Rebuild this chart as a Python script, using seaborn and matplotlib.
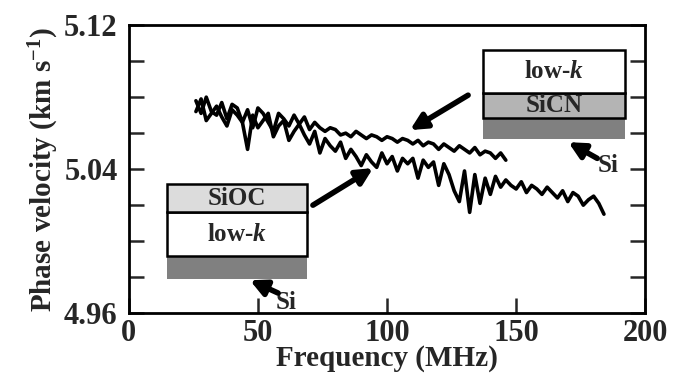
import numpy as np
import pandas as pd
import seaborn as sns
import matplotlib.pyplot as plt
from matplotlib.patches import Rectangle
from matplotlib.ticker import MultipleLocator

# low-k on SiCN (upper trace)
freq_sicn = [26, 28, 30, 32, 34, 36, 38, 40, 42, 44, 46, 48, 50, 52, 54, 56, 58, 60,
             62, 64, 66, 68, 70, 72, 74, 76, 78, 80, 82, 84, 86, 88, 90, 92, 94, 96,
             98, 100, 102, 104, 106, 108, 110, 112, 114, 116, 118, 120, 122, 124,
             126, 128, 130, 132, 134, 136, 138, 140, 142, 144, 146]
vel_sicn = [5.078, 5.071, 5.080, 5.072, 5.070, 5.077, 5.068, 5.076, 5.074, 5.066,
            5.073, 5.063, 5.074, 5.071, 5.066, 5.061, 5.071, 5.068, 5.064, 5.070,
            5.065, 5.069, 5.062, 5.066, 5.063, 5.061, 5.063, 5.062, 5.059, 5.060,
            5.058, 5.061, 5.059, 5.057, 5.059, 5.058, 5.056, 5.058, 5.057, 5.055,
            5.057, 5.056, 5.054, 5.056, 5.053, 5.055, 5.054, 5.051, 5.054, 5.052,
            5.050, 5.053, 5.051, 5.049, 5.052, 5.048, 5.050, 5.049, 5.046, 5.049,
            5.045]

# SiOC on low-k (lower trace)
freq_sioc = [26, 28, 30, 32, 34, 36, 38, 40, 42, 44, 46, 48, 50, 52, 54, 56, 58, 60,
             62, 64, 66, 68, 70, 72, 74, 76, 78, 80, 82, 84, 86, 88, 90, 92, 94, 96,
             98, 100, 102, 104, 106, 108, 110, 112, 114, 116, 118, 120, 122, 124,
             126, 128, 130, 132, 134, 136, 138, 140, 142, 144, 146, 148, 150, 152,
             154, 156, 158, 160, 162, 164, 166, 168, 170, 172, 174, 176, 178, 180,
             182, 184]
vel_sioc = [5.072, 5.079, 5.067, 5.071, 5.075, 5.069, 5.064, 5.073, 5.070, 5.066,
            5.051, 5.070, 5.063, 5.067, 5.071, 5.058, 5.064, 5.067, 5.056, 5.061,
            5.065, 5.059, 5.054, 5.061, 5.049, 5.057, 5.053, 5.050, 5.055, 5.046,
            5.051, 5.047, 5.042, 5.048, 5.044, 5.041, 5.049, 5.043, 5.047, 5.039,
            5.046, 5.043, 5.046, 5.035, 5.045, 5.041, 5.044, 5.031, 5.043, 5.037,
            5.028, 5.022, 5.039, 5.016, 5.037, 5.021, 5.035, 5.026, 5.036, 5.030,
            5.034, 5.031, 5.029, 5.033, 5.027, 5.031, 5.029, 5.026, 5.030, 5.027,
            5.024, 5.028, 5.022, 5.027, 5.025, 5.020, 5.023, 5.025, 5.021, 5.015]

sns.set_style('ticks')
plt.rcParams['font.family'] = ['Liberation Serif', 'DejaVu Serif']
plt.rcParams['font.weight'] = 'bold'
plt.rcParams['mathtext.fontset'] = 'custom'
plt.rcParams['mathtext.rm'] = 'Liberation Serif:bold'
plt.rcParams['mathtext.bf'] = 'Liberation Serif:bold'
plt.rcParams['mathtext.it'] = 'Liberation Serif:bold:italic'

fig = plt.figure(figsize=(6.85, 3.81), dpi=100)
ax = fig.add_axes([0.188, 0.178, 0.754, 0.756])

df1 = pd.DataFrame({'f': freq_sicn, 'v': vel_sicn})
df2 = pd.DataFrame({'f': freq_sioc, 'v': vel_sioc})
sns.lineplot(data=df2, x='f', y='v', color='black', lw=2.6, ax=ax)
sns.lineplot(data=df1, x='f', y='v', color='black', lw=2.6, ax=ax)

ax.set_xlim(0, 200)
ax.set_ylim(4.96, 5.12)
ax.set_xticks([0, 50, 100, 150, 200])
ax.set_yticks([4.96, 5.04, 5.12])
ax.set_yticklabels(['4.96', '5.04', '5.12'])
ax.yaxis.set_minor_locator(MultipleLocator(0.02))
ax.tick_params(which='both', direction='in', length=11, width=1.8,
               labelsize=22, left=True, right=True, top=False)
ax.tick_params(axis='y', pad=8)
ax.tick_params(axis='x', pad=4)
for s in ax.spines.values():
    s.set_linewidth(2.0)
    s.set_color('black')
ax.set_xlabel('Frequency (MHz)', fontsize=21, fontweight='bold', labelpad=-2)
ax.set_ylabel('Phase velocity (km s$^{-1}$)', fontsize=21, fontweight='bold', labelpad=2)

# left inset: SiOC / low-k / Si
ax.add_patch(Rectangle((14.7, 4.9789), 54.3, 0.0128, facecolor='#808080', edgecolor='none', zorder=3))
ax.add_patch(Rectangle((14.7, 4.9917), 54.3, 0.0244, facecolor='white', edgecolor='black', lw=1.8, zorder=3))
ax.add_patch(Rectangle((14.7, 5.0161), 54.3, 0.0156, facecolor='#dcdcdc', edgecolor='black', lw=1.8, zorder=3))
ax.text(41.8, 5.0239, 'SiOC', ha='center', va='center', fontsize=18, zorder=4)
ax.text(41.8, 5.0039, 'low-$k$', ha='center', va='center', fontsize=18, zorder=4)
ax.text(57.0, 4.9660, 'Si', ha='left', va='center', fontsize=18, zorder=4)

# right inset: low-k / SiCN / Si
ax.add_patch(Rectangle((137.2, 5.0567), 55.0, 0.0116, facecolor='#808080', edgecolor='none', zorder=3))
ax.add_patch(Rectangle((137.2, 5.0683), 55.0, 0.0139, facecolor='#b4b4b4', edgecolor='black', lw=1.8, zorder=3))
ax.add_patch(Rectangle((137.2, 5.0822), 55.0, 0.0239, facecolor='white', edgecolor='black', lw=1.8, zorder=3))
ax.text(164.7, 5.0945, 'low-$k$', ha='center', va='center', fontsize=18, zorder=4)
ax.text(164.7, 5.0752, 'SiCN', ha='center', va='center', fontsize=18, zorder=4)
ax.text(181.5, 5.0420, 'Si', ha='left', va='center', fontsize=18, zorder=4)

arrow = dict(arrowstyle='-|>', lw=4.0, color='black', mutation_scale=24, shrinkA=0, shrinkB=0)
ax.annotate('', xy=(94.6, 5.0406), xytext=(71.3, 5.0200), arrowprops=arrow, zorder=5)
ax.annotate('', xy=(108.9, 5.0617), xytext=(131.4, 5.0811), arrowprops=arrow, zorder=5)
ax.annotate('', xy=(46.9, 4.9783), xytext=(57.8, 4.9712), arrowprops=arrow, zorder=5)
ax.annotate('', xy=(170.2, 5.0550), xytext=(181.4, 5.0460), arrowprops=arrow, zorder=5)

fig.savefig('out.png', dpi=100)
